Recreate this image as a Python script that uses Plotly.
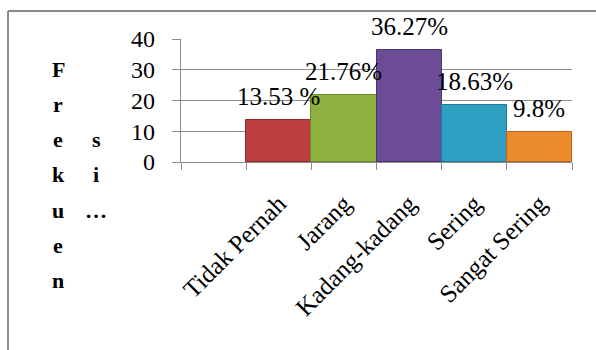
import plotly.graph_objects as go

# Response categories and their share of respondents (%)
categories = ["Tidak Pernah", "Jarang", "Kadang-kadang", "Sering", "Sangat Sering"]
values = [13.53, 21.76, 36.27, 18.63, 9.8]
value_labels = ["13.53 %", "21.76%", "36.27%", "18.63%", "9.8%"]
bar_colors = ["#BB3F3E", "#8EB03F", "#6C4C97", "#2EA0C1", "#EC8A2E"]
edge_colors = ["#8E2A29", "#6A8A2A", "#4E3472", "#1F7C97", "#B8661C"]
y_ticks = [0, 10, 20, 30, 40]

# Axis title, drawn one stacked letter at a time in two columns
title_col1 = ["F", "r", "e", "k", "u", "e", "n"]
title_col2 = ["s", "i", "\u2026"]

W, H = 596, 350
L, R, T, B = 181, 24, 39, 188
PW, PH = W - L - R, H - T - B

FONT = "Liberation Serif"

# one slot is left empty before the first category
x_pos = [i + 1 for i in range(len(categories))]

fig = go.Figure()
fig.add_trace(go.Bar(
    x=x_pos,
    y=values,
    marker=dict(color=bar_colors, line=dict(color=edge_colors, width=1)),
    width=1.0,
    hoverinfo="skip",
))

# value labels above each bar
for xp, v, lab in zip(x_pos, values, value_labels):
    fig.add_annotation(
        x=xp, y=v, xref="x", yref="y",
        text=lab, showarrow=False,
        yanchor="bottom", xanchor="center", yshift=8,
        font=dict(family=FONT, size=25, color="#000000"),
    )


def px_to_paper(px, py):
    return (px - L) / PW, (H - B - py) / PH


line_step = 35.3
first_base = 77
for i, ch in enumerate(title_col1):
    xp, yp = px_to_paper(58, first_base + line_step * i - 8)
    fig.add_annotation(x=xp, y=yp, xref="paper", yref="paper", text=f"<b>{ch}</b>",
                       showarrow=False, xanchor="center", yanchor="middle",
                       font=dict(family=FONT, size=22, color="#000000"))
for i, ch in enumerate(title_col2):
    xp, yp = px_to_paper(96, first_base + line_step * (i + 2) - 8)
    fig.add_annotation(x=xp, y=yp, xref="paper", yref="paper", text=f"<b>{ch}</b>",
                       showarrow=False, xanchor="center", yanchor="middle",
                       font=dict(family=FONT, size=22, color="#000000"))

# outer chart frame (top and left edges)
fx0, fy0 = px_to_paper(8, 11)
fx1, _ = px_to_paper(W + 2, 11)
_, fy1 = px_to_paper(8, H + 2)
fig.add_shape(type="line", xref="paper", yref="paper", x0=fx0, x1=fx1, y0=fy0, y1=fy0,
              line=dict(color="#8C8C8C", width=2))
fig.add_shape(type="line", xref="paper", yref="paper", x0=fx0, x1=fx0, y0=fy0, y1=fy1,
              line=dict(color="#8C8C8C", width=2))

grid_color = "#8C8C8C"

fig.update_layout(
    width=W, height=H,
    margin=dict(l=L, r=R, t=T, b=B, pad=0),
    paper_bgcolor="#FFFFFF",
    plot_bgcolor="#FFFFFF",
    showlegend=False,
    bargap=0,
    font=dict(family=FONT, color="#000000"),
    xaxis=dict(
        range=[-0.5, len(categories) + 0.5],
        tickmode="array",
        tickvals=x_pos,
        ticktext=categories,
        tickangle=-45,
        ticks="",
        ticklen=0,
        showgrid=False,
        zeroline=False,
        showline=True,
        linecolor=grid_color,
        linewidth=1.3,
        tickfont=dict(family=FONT, size=25, color="#000000"),
        ticklabelstandoff=16,
        minor=dict(tickmode="linear", tick0=0.5, dtick=1, ticks="outside",
                   ticklen=7, tickcolor=grid_color, tickwidth=1.3, showgrid=False),
        fixedrange=True,
    ),
    yaxis=dict(
        range=[0, 40],
        tickmode="array",
        tickvals=y_ticks,
        ticks="outside",
        ticklen=8,
        tickcolor=grid_color,
        tickwidth=1.3,
        showgrid=True,
        gridcolor=grid_color,
        gridwidth=1.3,
        zeroline=False,
        showline=True,
        linecolor=grid_color,
        linewidth=1.3,
        tickfont=dict(family=FONT, size=24, color="#000000"),
        ticklabelstandoff=12,
        fixedrange=True,
    ),
)

fig.write_html("out.html")
